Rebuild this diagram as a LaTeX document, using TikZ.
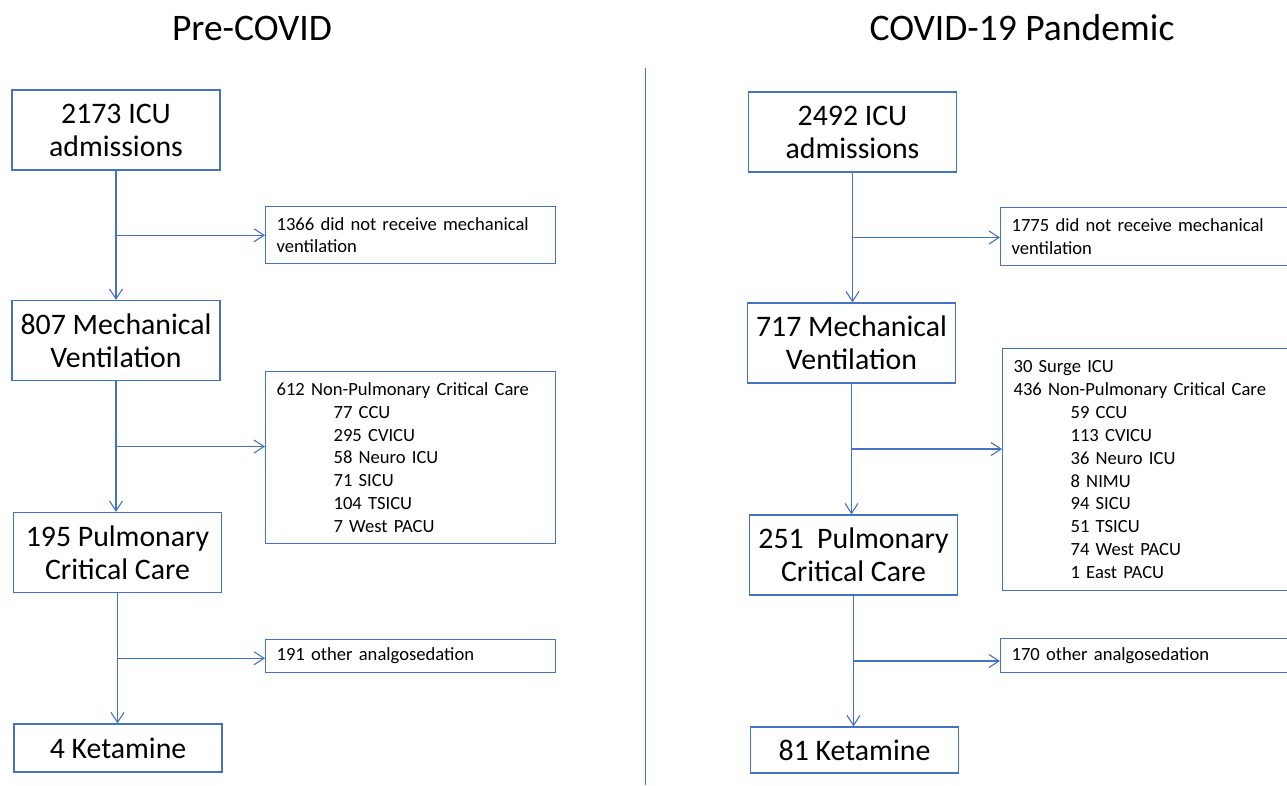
\documentclass[tikz,border=0pt]{standalone}
\usepackage{fontspec}
\setmainfont{Carlito}
\usetikzlibrary{arrows.meta, calc}
\definecolor{boxblue}{HTML}{4472C4}

\begin{document}
\begin{tikzpicture}[x = 1pt, y = -1pt,
    mainbox/.style = {draw = boxblue, line width = 1.2pt, minimum width = 208pt, minimum height = 80pt, align = center, inner sep = 0pt, font = \fontsize{29.8}{33}\selectfont},
    sidebox/.style = {draw = boxblue, line width = 1.2pt, anchor = north west, align = left, inner xsep = 11pt, inner ysep = 0pt, font = \fontsize{18.6}{22.9}\selectfont},
    title/.style = {font = \fontsize{37.5}{44}\selectfont},
    flow/.style = {draw = boxblue, line width = 1.1pt, -{Straight Barb[length = 10pt, width = 13pt]}}]
  \useasboundingbox (0,0) rectangle (1287,785);

  % titles and divider
  \node[title] (pretitle) at (252,28) {Pre-COVID};
  \node[title] (covtitle) at (1022,28) {COVID-19 Pandemic};
  \coordinate (divtop) at (645,68);
  \coordinate (divbot) at (645,785);
  \draw[boxblue, line width = 1pt] (divtop) -- (divbot);

  % pre-covid column
  \node[mainbox] (l1) at (116,130) {2173 ICU\\admissions};
  \node[mainbox] (l2) at (116,340.5) {807 Mechanical\\Ventilation};
  \node[mainbox] (l3) at (117.5,552.5) {195 Pulmonary\\Critical Care};
  \node[mainbox, minimum height = 48pt] (l4) at (118,748) {4 Ketamine};
  \node[sidebox, text width = 268pt, minimum height = 57pt] (ls1) at (265,206) {1366 did not receive mechanical\\ventilation};
  \node[sidebox, text width = 268pt, minimum height = 172pt] (ls2) at (265,371) {612 Non-Pulmonary Critical Care\\
    \hspace*{57pt}77 CCU\\ \hspace*{57pt}295 CVICU\\ \hspace*{57pt}58 Neuro ICU\\
    \hspace*{57pt}71 SICU\\ \hspace*{57pt}104 TSICU\\ \hspace*{57pt}7 West PACU};
  \node[sidebox, text width = 268pt, minimum height = 33pt] (ls3) at (265,639) {191 other analgosedation};

  % covid column
  \node[mainbox] (r1) at (852.5,132) {2492 ICU\\admissions};
  \node[mainbox] (r2) at (851.5,343) {717 Mechanical\\Ventilation};
  \node[mainbox] (r3) at (853.5,555) {251 \ Pulmonary\\Critical Care};
  \node[mainbox, minimum height = 46pt] (r4) at (854.5,750) {81 Ketamine};
  \node[sidebox, text width = 298pt, minimum height = 58pt] (rs1) at (1000,207) {1775 did not receive mechanical\\ventilation};
  \node[sidebox, text width = 298pt, minimum height = 242pt] (rs2) at (1002,348) {30 Surge ICU\\436 Non-Pulmonary Critical Care\\
    \hspace*{57pt}59 CCU\\ \hspace*{57pt}113 CVICU\\ \hspace*{57pt}36 Neuro ICU\\ \hspace*{57pt}8 NIMU\\
    \hspace*{57pt}94 SICU\\ \hspace*{57pt}51 TSICU\\ \hspace*{57pt}74 West PACU\\ \hspace*{57pt}1 East PACU};
  \node[sidebox, text width = 298pt, minimum height = 34pt] (rs3) at (1000,638) {170 other analgosedation};

  % connectors
  \foreach \col in {l, r} {
    \foreach \a/\b in {1/2, 2/3, 3/4} {
      \draw[flow] (\col\a.south) -- (\col\a.south |- \col\b.north);
      \coordinate (\col m\a) at ($(\col\a.south)!0.5!(\col\a.south |- \col\b.north)$);
      \draw[flow] (\col m\a) -- (\col m\a -| \col s\a.west);
    }
  }
\end{tikzpicture}
\end{document}
